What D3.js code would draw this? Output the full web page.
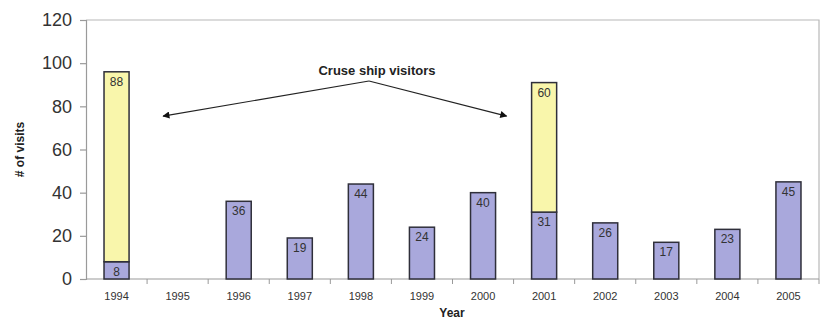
<!DOCTYPE html>
<html>
<head>
<meta charset="utf-8">
<script src="https://cdn.jsdelivr.net/npm/d3@7"></script>
<style>
  html, body { margin: 0; padding: 0; background: #fff; }
  svg { display: block; font-family: Arial, "Liberation Sans", sans-serif; }
</style>
</head>
<body>
<svg id="chart" width="824" height="320"></svg>
<script>
// Visits per year, split into regular visits and cruise ship visitors
const years = ["1994","1995","1996","1997","1998","1999","2000","2001","2002","2003","2004","2005"];
const regularVisits = [8, null, 36, 19, 44, 24, 40, 31, 26, 17, 23, 45];
const cruiseVisits  = [88, null, null, null, null, null, null, 60, null, null, null, null];
const yTicks = [0, 20, 40, 60, 80, 100, 120];
const annotationText = "Cruse ship visitors";

const svg = d3.select("#chart");
const margin = { left: 86, right: 5, top: 20, bottom: 41 };
const W = 824, H = 320;
const x = d3.scaleBand().domain(years).range([margin.left, W - margin.right]).paddingInner(0.59).paddingOuter(0.295);
const y = d3.scaleLinear().domain([0, 120]).range([H - margin.bottom, margin.top]);

const purple = "#a9a8dc", yellow = "#f9f6ab", edge = "#2f2f3a", grey = "#9a9a9a";

// plot frame (top and right sides)
svg.append("path")
  .attr("d", `M${margin.left},${y(120)}H${W - margin.right}V${y(0)}`)
  .attr("fill", "none").attr("stroke", "#b8b8b8").attr("stroke-width", 1.2);

// y axis
const yAxis = svg.append("g").attr("transform", `translate(${margin.left},0)`)
  .call(d3.axisLeft(y).tickValues(yTicks).tickSize(6).tickPadding(8));
yAxis.selectAll("line, path").attr("stroke", grey).attr("stroke-width", 1.2);
yAxis.selectAll("text").attr("font-size", 18).attr("fill", "#333").attr("font-family", "Arial, 'Liberation Sans', sans-serif");

// x axis with ticks between categories
const xAxisG = svg.append("g").attr("transform", `translate(0,${y(0)})`);
xAxisG.append("line").attr("x1", margin.left).attr("x2", W - margin.right)
  .attr("stroke", grey).attr("stroke-width", 1.2);
const step = x.step();
xAxisG.selectAll(".sep").data(years).enter().append("line")
  .attr("x1", (d) => x(d) + x.bandwidth() / 2 + step / 2)
  .attr("x2", (d) => x(d) + x.bandwidth() / 2 + step / 2)
  .attr("y1", 0).attr("y2", 5).attr("stroke", grey).attr("stroke-width", 1);
xAxisG.selectAll(".lbl").data(years).enter().append("text")
  .attr("x", (d) => x(d) + x.bandwidth() / 2).attr("y", 21)
  .attr("text-anchor", "middle").attr("font-size", 11).attr("fill", "#333").text((d) => d);

// bars
const rows = years.map((yr, i) => ({ yr, a: regularVisits[i], b: cruiseVisits[i] }));
const g = svg.append("g");
rows.forEach((r) => {
  if (r.a == null) return;
  const bx = x(r.yr), bw = x.bandwidth();
  g.append("rect").attr("x", bx).attr("y", y(r.a)).attr("width", bw).attr("height", y(0) - y(r.a))
    .attr("fill", purple).attr("stroke", edge).attr("stroke-width", 1.5);
  g.append("text").attr("x", bx + bw / 2).attr("y", y(r.a) + 14)
    .attr("text-anchor", "middle").attr("font-size", 12).attr("fill", "#333").text(r.a);
  if (r.b != null) {
    const top = r.a + r.b;
    g.append("rect").attr("x", bx).attr("y", y(top)).attr("width", bw).attr("height", y(r.a) - y(top))
      .attr("fill", yellow).attr("stroke", edge).attr("stroke-width", 1.5);
    g.append("text").attr("x", bx + bw / 2).attr("y", y(top) + 14)
      .attr("text-anchor", "middle").attr("font-size", 12).attr("fill", "#333").text(r.b);
  }
});

// annotation arrows
const defs = svg.append("defs");
defs.append("marker").attr("id", "arrow").attr("viewBox", "0 0 10 10").attr("refX", 9).attr("refY", 5)
  .attr("markerWidth", 12).attr("markerHeight", 7).attr("orient", "auto").attr("markerUnits", "userSpaceOnUse")
  .append("path").attr("d", "M0,0L10,5L0,10z").attr("fill", "#111");
const ox = 369, oy = 81;
const leftTip = [x("1995") - 2, y(75.5)];
const rightTip = [x("2001") - 25, y(75.5)];
[leftTip, rightTip].forEach((t) => {
  svg.append("line").attr("x1", ox).attr("y1", oy).attr("x2", t[0]).attr("y2", t[1])
    .attr("stroke", "#222").attr("stroke-width", 1.2).attr("marker-end", "url(#arrow)");
});
svg.append("text").attr("x", 377).attr("y", 75).attr("text-anchor", "middle")
  .attr("font-size", 13).attr("font-weight", "bold").attr("fill", "#222").text(annotationText);

// axis titles
svg.append("text").attr("x", 452).attr("y", 317)
  .attr("text-anchor", "middle").attr("font-size", 12).attr("font-weight", "bold").attr("fill", "#222").text("Year");
svg.append("text").attr("transform", `translate(24,${(y(0) + y(120)) / 2}) rotate(-90)`)
  .attr("text-anchor", "middle").attr("font-size", 12).attr("font-weight", "bold").attr("fill", "#222").text("# of visits");
</script>
</body>
</html>
